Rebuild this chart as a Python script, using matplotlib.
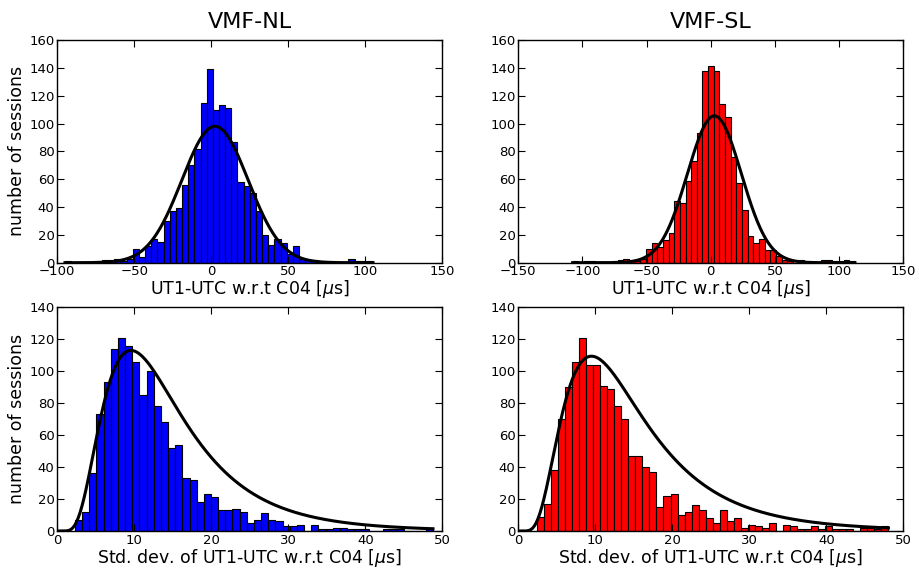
import numpy as np
import matplotlib
matplotlib.use("Agg")
import matplotlib.pyplot as plt

# ---------------- data ----------------
titles = ["VMF-NL", "VMF-SL"]
xlabel_top = r"UT1-UTC w.r.t C04 [$\mu$s]"
xlabel_bottom = r"Std. dev. of UT1-UTC w.r.t C04 [$\mu$s]"
ylabel = "number of sessions"

# UT1-UTC offsets, VMF-NL (50 bins)
nl_offset_range = (-95.0, 105.0)
nl_offset_counts = [1, 0, 0, 0, 0, 1, 2, 2, 3, 1,
                    3, 10, 4, 12, 17, 15, 30, 37, 39, 56,
                    70, 82, 115, 139, 110, 113, 111, 87, 58, 55,
                    50, 37, 20, 13, 17, 14, 6, 12, 3, 2,
                    2, 0, 0, 0, 0, 0, 3, 1, 1, 1]
nl_offset_fit = dict(mu=2.4, sigma=21.5, peak=98.0)

# UT1-UTC offsets, VMF-SL (50 bins)
sl_offset_range = (-107.7, 112.3)
sl_offset_counts = [1, 0, 1, 1, 0, 0, 0, 1, 2, 3,
                    1, 1, 3, 10, 14, 11, 16, 21, 44, 43,
                    59, 73, 93, 138, 141, 138, 114, 105, 76, 57,
                    38, 19, 14, 17, 9, 9, 5, 2, 1, 0,
                    2, 0, 0, 0, 2, 2, 1, 1, 2, 1]
sl_offset_fit = dict(mu=2.8, sigma=21.0, peak=105.5)

# Std. dev., VMF-NL (50 bins)
nl_std_range = (2.29, 48.79)
nl_std_counts = [7, 12, 36, 73, 93, 114, 121, 116, 106, 85,
                 100, 78, 68, 52, 54, 33, 32, 18, 23, 21,
                 13, 13, 14, 12, 5, 7, 11, 7, 6, 3,
                 3, 4, 0, 4, 1, 1, 2, 2, 1, 1,
                 1, 0, 0, 1, 1, 1, 0, 0, 0, 2]
nl_std_fit = dict(mode=9.57, s=0.55, peak=113.0)

# Std. dev., VMF-SL (50 bins)
sl_std_range = (2.42, 48.07)
sl_std_counts = [9, 17, 38, 70, 90, 106, 121, 104, 104, 91,
                 89, 78, 70, 47, 47, 40, 37, 15, 22, 23,
                 10, 12, 16, 13, 8, 5, 13, 6, 8, 2,
                 4, 3, 2, 5, 0, 4, 3, 1, 1, 3,
                 1, 3, 1, 1, 1, 0, 2, 2, 1, 3]
sl_std_fit = dict(mode=9.5, s=0.57, peak=109.4)

# ---------------- style ----------------
plt.rcParams['font.family'] = ['DejaVu Sans']
plt.rcParams['mathtext.fontset'] = 'dejavusans'

fig = plt.figure(figsize=(9.2, 5.69), dpi=100, facecolor='white')

W = 385 / 920
pos = {
    (0, 0): [57.3 / 920, 1 - 262.7 / 569, W, 222.7 / 569],
    (0, 1): [518.3 / 920, 1 - 262.7 / 569, W, 222.7 / 569],
    (1, 0): [57.3 / 920, 1 - 531 / 569, W, 223.7 / 569],
    (1, 1): [518.3 / 920, 1 - 531 / 569, W, 223.7 / 569],
}


def style(ax):
    ax.tick_params(direction='in', top=True, right=True, length=5,
                   width=0.8, labelsize=9.5, pad=2)
    for sp in ax.spines.values():
        sp.set_linewidth(1.0)


def hist(ax, rng, counts, color):
    edges = np.linspace(rng[0], rng[1], len(counts) + 1)
    ax.hist(edges[:-1], bins=edges, weights=counts, color=color,
            edgecolor='black', linewidth=0.8)
    return edges


def gauss(ax, rng, fit):
    x = np.linspace(rng[0], rng[1], 400)
    y = fit['peak'] * np.exp(-(x - fit['mu']) ** 2 / (2 * fit['sigma'] ** 2))
    ax.plot(x, y, color='black', lw=2.2)


def lognorm(ax, xmax, fit):
    x = np.linspace(0.05, xmax, 400)
    y = fit['peak'] * np.exp(-np.log(x / fit['mode']) ** 2 / (2 * fit['s'] ** 2))
    ax.plot(x, y, color='black', lw=2.2)


# top-left
ax = fig.add_axes(pos[(0, 0)])
hist(ax, nl_offset_range, nl_offset_counts, 'blue')
gauss(ax, nl_offset_range, nl_offset_fit)
ax.set_xlim(-100, 150)
ax.set_ylim(0, 160)
ax.set_xticks(np.arange(-100, 151, 50))
ax.set_yticks(np.arange(0, 161, 20))
ax.set_title(titles[0], fontsize=16, pad=9)
ax.set_xlabel(xlabel_top, fontsize=12.5, labelpad=0)
ax.set_ylabel(ylabel, fontsize=12.5, labelpad=2)
style(ax)

# top-right
ax = fig.add_axes(pos[(0, 1)])
hist(ax, sl_offset_range, sl_offset_counts, 'red')
gauss(ax, sl_offset_range, sl_offset_fit)
ax.set_xlim(-150, 150)
ax.set_ylim(0, 160)
ax.set_xticks(np.arange(-150, 151, 50))
ax.set_yticks(np.arange(0, 161, 20))
ax.set_title(titles[1], fontsize=16, pad=9)
ax.set_xlabel(xlabel_top, fontsize=12.5, labelpad=0)
style(ax)

# bottom-left
ax = fig.add_axes(pos[(1, 0)])
hist(ax, nl_std_range, nl_std_counts, 'blue')
lognorm(ax, nl_std_range[1], nl_std_fit)
ax.set_xlim(0, 50)
ax.set_ylim(0, 140)
ax.set_xticks(np.arange(0, 51, 10))
ax.set_yticks(np.arange(0, 141, 20))
ax.set_xlabel(xlabel_bottom, fontsize=12.5, labelpad=0)
ax.set_ylabel(ylabel, fontsize=12.5, labelpad=2)
style(ax)

# bottom-right
ax = fig.add_axes(pos[(1, 1)])
hist(ax, sl_std_range, sl_std_counts, 'red')
lognorm(ax, sl_std_range[1], sl_std_fit)
ax.set_xlim(0, 50)
ax.set_ylim(0, 140)
ax.set_xticks(np.arange(0, 51, 10))
ax.set_yticks(np.arange(0, 141, 20))
ax.set_xlabel(xlabel_bottom, fontsize=12.5, labelpad=0)
style(ax)

fig.savefig("out.png", dpi=100, facecolor='white')
